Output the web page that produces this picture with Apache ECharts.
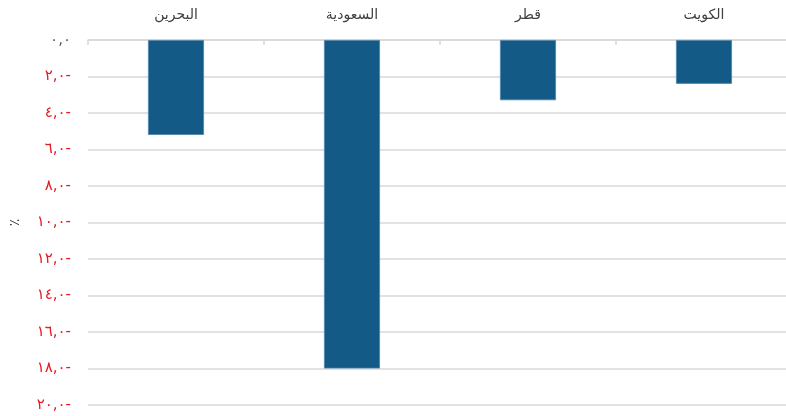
<!DOCTYPE html>
<html><head><meta charset="utf-8">
<script src="https://cdn.jsdelivr.net/npm/echarts@6/dist/echarts.min.js"></script>
<style>html,body{margin:0;padding:0;background:#fff}#c{width:786px;height:416px}</style>
</head><body><div id="c"></div>
<script>
const categories = ['البحرين', 'السعودية', 'قطر', 'الكويت'];
const values = [-5.2, -18.0, -3.3, -2.4];
const yMin = -20, yMax = 0, yStep = 2;
const axisName = '٪';

const arDigits = '٠١٢٣٤٥٦٧٨٩';
function toAr(s){ return String(s).replace(/[0-9]/g, d => arDigits[+d]); }
function fmt(v){
  const a = Math.abs(v).toFixed(1).split('.');
  const txt = toAr(a[0]) + ',' + toAr(a[1]);
  if (v === 0) return '{z|' + txt + '}';
  return '{r|' + txt + '-}';
}

const chart = echarts.init(document.getElementById('c'), null, {renderer:'canvas'});
chart.setOption({
  animation: false,
  textStyle: {fontFamily: '"DejaVu Sans", "Noto Sans", sans-serif'},
  grid: {left: 88, width: 704, top: 40, bottom: 11, containLabel: false, outerBoundsMode: 'none'},
  xAxis: {
    type: 'category', position: 'top', data: categories,
    axisLine: {show: true, lineStyle: {color: '#d9d9d9', width: 1.5}},
    axisTick: {show: true, inside: true, length: 5, lineStyle: {color: '#d9d9d9', width: 1.5}},
    axisLabel: {color: '#404040', fontSize: 14, margin: 18}
  },
  yAxis: {
    type: 'value', min: yMin, max: yMax, interval: yStep,
    name: axisName, nameLocation: 'middle', nameGap: 66, nameRotate: 90,
    nameTextStyle: {color: '#404040', fontSize: 14},
    axisLine: {show: false}, axisTick: {show: false},
    splitLine: {lineStyle: {color: '#d9d9d9', width: 1.5}},
    axisLabel: {
      margin: 17, formatter: fmt,
      rich: {
        r: {color: '#e41b23', fontSize: 15},
        z: {color: '#595959', fontSize: 15}
      }
    }
  },
  series: [{
    type: 'bar', data: values, barWidth: 56,
    itemStyle: {color: '#135b86', borderColor: '#4b84ad', borderWidth: 0.8}
  }]
});
</script>
</body></html>
